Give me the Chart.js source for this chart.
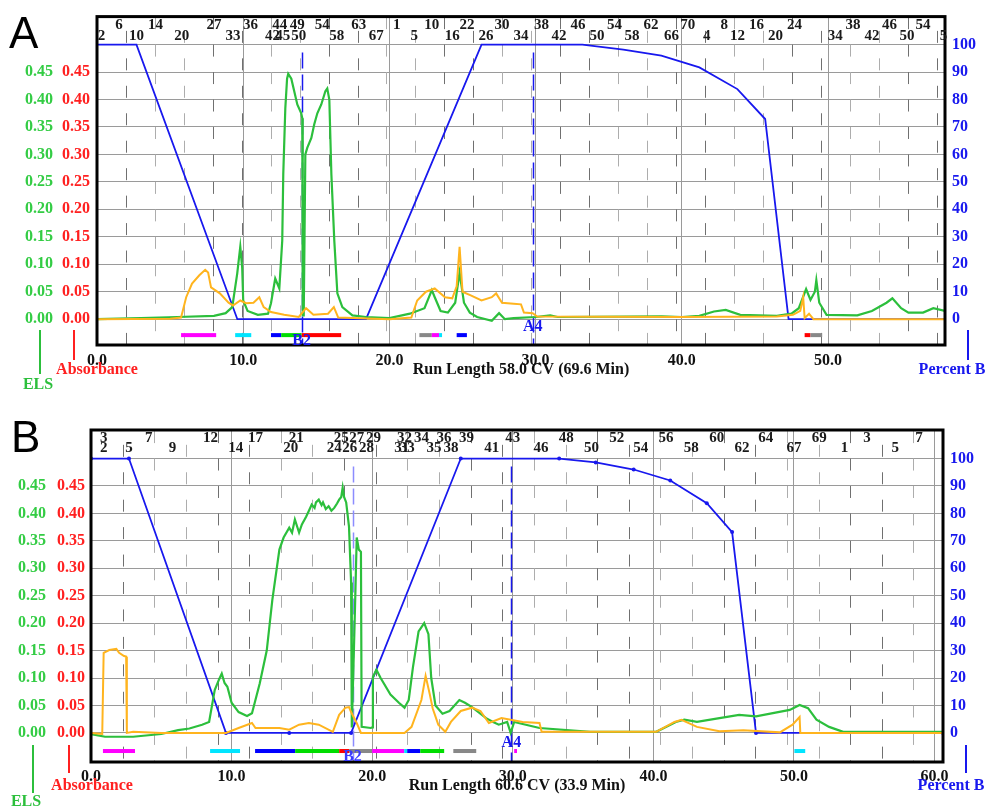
<!DOCTYPE html>
<html>
<head>
<meta charset="utf-8">
<script src="https://cdn.jsdelivr.net/npm/chart.js@4.4.0/dist/chart.umd.min.js"></script>
<style>
  body { margin: 0; background: #fff; }
  .panel { position: absolute; left: 0; width: 990px; height: 405px; }
</style>
</head>
<body>
<div class="panel" style="top:0"><canvas id="chartA" width="990" height="405"></canvas></div>
<div class="panel" style="top:405px"><canvas id="chartB" width="990" height="405"></canvas></div>
<script>
// ---- shared tick values ----
const yTicks = [0, 0.05, 0.10, 0.15, 0.20, 0.25, 0.30, 0.35, 0.40, 0.45];
const pbTicks = [0, 10, 20, 30, 40, 50, 60, 70, 80, 90, 100];
const xTicksA = [0, 10, 20, 30, 40, 50];
const xTicksB = [0, 10, 20, 30, 40, 50, 60];

// ---- Panel A: ELS (green) ----
const elsCvA = [0, 3.0, 5.5, 8.0, 8.8, 9.25, 9.59, 9.8, 9.93, 10.0, 10.3, 11.0, 11.7, 11.9, 12.19, 12.47,
  12.67, 12.74, 12.88, 13.0, 13.08, 13.29, 13.49, 13.70, 13.97, 14.04, 14.07, 14.14, 14.25, 14.38, 14.66,
  14.86, 15.07, 15.34, 15.62, 15.75, 15.89, 16.03, 16.23, 16.44, 16.78, 17.47, 18.4, 20.0, 21.4, 22.4,
  22.9, 23.1, 23.5, 24.0, 24.5, 24.8, 25.1, 25.5, 26.0, 27.0, 27.5, 27.9, 28.5, 30.0, 31.0, 31.5, 38.6,
  40.0, 41.2, 42.2, 43.0, 44.0, 46.5, 47.5, 48.0, 48.5, 48.8, 49.1, 49.2, 49.4, 49.9, 52.0, 53.0, 54.0,
  54.4, 55.0, 55.5, 56.5, 57.2, 58.0];
const elsValA = [0, 0.002, 0.004, 0.006, 0.011, 0.022, 0.083, 0.132, 0.094, 0.034, 0.015, 0.008, 0.01, 0.029, 0.074, 0.056,
  0.143, 0.264, 0.384, 0.438, 0.447, 0.438, 0.415, 0.391, 0.375, 0.366, 0.007, 0.007, 0.30, 0.312, 0.33,
  0.355, 0.375, 0.391, 0.415, 0.42, 0.40, 0.264, 0.143, 0.047, 0.022, 0.007, 0.004, 0.002, 0.01, 0.02,
  0.053, 0.04, 0.015, 0.012, 0.03, 0.085, 0.03, 0.012, 0.004, -0.003, 0.011, 0.0, 0.002, 0.004, 0.007, 0.004, 0.005,
  0.004, 0.006, 0.014, 0.017, 0.008, 0.006, 0.01, 0.02, 0.055, 0.035, 0.05, 0.071, 0.03, 0.008, 0.007, 0.015, 0.03,
  0.038, 0.02, 0.012, 0.012, 0.02, 0.015];

// ---- Panel A: Absorbance (orange) ----
const absCvA = [0, 5.0, 5.75, 6.1, 6.5, 7.0, 7.4, 7.6, 7.8, 8.4, 9.0, 9.3, 9.8, 10.2, 10.7, 11.1, 11.4, 11.9,
  12.8, 13.8, 14.3, 14.8, 15.8, 16.2, 16.5, 17.5, 20.0, 21.5, 21.9, 22.5, 23.1, 23.8, 24.3, 24.6, 24.8,
  25.0, 25.6, 26.3, 27.0, 27.3, 27.7, 28.5, 29.0, 29.2, 29.8, 30.1, 40.0, 46.5, 47.6, 48.1, 48.3, 48.4,
  48.7, 49.0, 58.0];
const absValA = [0, 0.001, 0.003, 0.04, 0.065, 0.08, 0.09, 0.085, 0.058, 0.047, 0.03, 0.025, 0.034, 0.029, 0.03, 0.04, 0.022, 0.013,
  0.008, 0.004, 0.02, 0.008, 0.01, 0.022, 0.003, 0.002, 0.0, 0.003, 0.034, 0.05, 0.056, 0.04, 0.038, 0.06, 0.132,
  0.05, 0.043, 0.034, 0.04, 0.047, 0.03, 0.028, 0.027, 0.012, 0.011, 0.005, 0.004, 0.005, 0.008, 0.015, 0.04, 0.002,
  0.01, 0.0, 0.0];

// ---- Panel A: Percent B (blue) ----
const pbCvA = [0, 2.7, 9.6, 18.4, 26.3, 33.2, 36.0, 38.6, 41.2, 43.8, 45.7, 47.3, 58.0];
const pbValA = [100, 100, 0, 0, 100, 100, 98.2, 96.0, 91.7, 83.8, 72.9, 0, 0];

// ---- Panel A: fraction labels ----
const fracTextA = ['6', '14', '27', '36', '44', '49', '54', '63', '1', '10', '22', '30', '38', '46', '54', '62', '70', '8', '16', '24', '38', '46', '54',
  '2', '10', '20', '33', '42', '45', '50', '58', '67', '5', '16', '26', '34', '42', '50', '58', '66', '4', '12', '20', '34', '42', '50', '5'];
const fracCvA = [1.5, 4.0, 8.0, 10.5, 12.5, 13.7, 15.4, 17.9, 20.5, 22.9, 25.3, 27.7, 30.4, 32.9, 35.4, 37.9, 40.4, 42.9, 45.1, 47.7, 51.7, 54.2, 56.5,
  0.3, 2.7, 5.8, 9.3, 12.0, 12.7, 13.8, 16.4, 19.1, 21.7, 24.3, 26.6, 29.0, 31.6, 34.2, 36.6, 39.3, 41.7, 43.8, 46.4, 50.5, 53.0, 55.4, 57.9];
const fracRowA = [0, 0, 0, 0, 0, 0, 0, 0, 0, 0, 0, 0, 0, 0, 0, 0, 0, 0, 0, 0, 0, 0, 0,
  1, 1, 1, 1, 1, 1, 1, 1, 1, 1, 1, 1, 1, 1, 1, 1, 1, 1, 1, 1, 1, 1, 1, 1];

// ---- Panel A: collected fraction bars ----
const barStartA = [5.75, 9.45, 11.9, 12.6, 14.0, 22.05, 22.9, 23.4, 24.6, 48.4, 48.8];
const barEndA = [8.15, 10.55, 12.6, 14.0, 16.7, 22.9, 23.4, 23.6, 25.3, 48.8, 49.6];
const barColorA = ['#ff00ff', '#00e5ff', '#0000ff', '#00dd00', '#ff0000', '#888888', '#ff00ff', '#00e5ff', '#0000ff', '#ff0000', '#888888'];

// ---- Panel A: event markers ----
const markerCvA = [14.0, 29.8];
const markerTextA = ['B2', 'A4'];

// ---- Panel B: ELS (green) ----
const elsCvB = [0, 1.0, 3.0, 5.0, 6.2, 7.0, 7.9, 8.4, 8.8, 9.1, 9.3, 9.5, 9.7, 10.0, 10.5, 11.1, 11.45, 12.0,
  12.5, 12.9, 13.4, 13.7, 14.1, 14.3, 14.5, 14.8, 15.0, 15.3, 15.5, 15.7, 15.9, 16.0, 16.2, 16.4, 16.5, 16.7,
  16.9, 17.1, 17.3, 17.5, 17.65, 17.8, 17.9, 18.0, 18.15, 18.35, 18.5, 18.55, 18.75, 18.9, 19.05, 19.2,
  19.25, 19.9, 20.0, 20.05, 20.3, 20.6, 21.3, 21.9, 22.3, 22.6, 22.9, 23.3, 23.7, 24.0, 24.2, 24.5, 25.0,
  25.5, 26.2, 26.6, 27.1, 28.1, 28.6, 29.0, 29.6, 29.85, 30.1, 31.9, 35.5, 40.2, 41.6, 42.2, 43.1, 44.7,
  46.1, 47.3, 49.7, 50.4, 51.0, 51.6, 52.5, 53.5, 60.6];
const elsValB = [-0.002, -0.007, -0.007, -0.002, 0.005, 0.008, 0.015, 0.02, 0.078, 0.097, 0.108, 0.091, 0.084, 0.055, 0.038, 0.031, 0.036, 0.09,
  0.15, 0.243, 0.334, 0.356, 0.374, 0.365, 0.389, 0.365, 0.38, 0.394, 0.405, 0.416, 0.41, 0.42, 0.425, 0.415, 0.42, 0.408,
  0.413, 0.405, 0.41, 0.418, 0.425, 0.43, 0.447, 0.43, 0.42, 0.376, 0.274, 0.01, 0.2, 0.356, 0.334, 0.33,
  0.011, 0.009, 0.01, 0.102, 0.115, 0.1, 0.07, 0.055, 0.046, 0.06, 0.12, 0.185, 0.2, 0.18, 0.1, 0.05, 0.035,
  0.04, 0.06, 0.055, 0.047, 0.027, 0.02, 0.015, 0.02, 0.0, 0.02, 0.009, 0.002, 0.002, 0.02, 0.024, 0.02, 0.027,
  0.033, 0.03, 0.042, 0.051, 0.045, 0.024, 0.011, 0.002, 0.002];

// ---- Panel B: Absorbance (orange) ----
const absCvB = [0, 0.8, 0.9, 1.3, 1.8, 2.0, 2.35, 2.5, 2.55, 3.0, 5.0, 9.6, 10.5, 11.45, 11.7, 13.4, 14.1, 14.8,
  15.5, 16.2, 17.2, 17.65, 18.1, 18.35, 18.5, 18.9, 19.2, 22.3, 22.8, 23.5, 23.8, 24.1, 24.3, 24.7, 25.2,
  25.6, 26.3, 27.1, 27.7, 28.3, 29.2, 30.7, 31.9, 32.05, 40.2, 41.5, 42.0, 43.1, 44.7, 46.4, 49.0, 49.9,
  50.4, 50.45, 60.6];
const absValB = [0, -0.002, 0.146, 0.151, 0.153, 0.146, 0.14, 0.139, 0.0, 0.002, 0.0, 0.0, 0.009, 0.018, 0.009, 0.009, 0.006, 0.015,
  0.018, 0.015, 0.002, 0.033, 0.046, 0.047, 0.038, 0.018, 0.0, 0.0, 0.011, 0.06, 0.104, 0.07, 0.045, 0.015, 0.002,
  0.02, 0.04, 0.046, 0.04, 0.018, 0.027, 0.02, 0.018, 0.002, 0.002, 0.02, 0.024, 0.011, 0.003, 0.005, 0.001, 0.015,
  0.029, 0.0, 0.0];

// ---- Panel B: Percent B (blue) ----
const pbCvB = [0, 2.7, 9.6, 14.1, 18.5, 26.3, 33.3, 35.9, 38.6, 41.2, 43.8, 45.6, 47.3, 60.6];
const pbValB = [100, 100, 0, 0, 0, 100, 100, 98.6, 96.0, 92.0, 83.7, 73.2, 0, 0];

// ---- Panel B: fraction labels ----
const fracTextB = ['3', '7', '12', '17', '21', '25', '27', '29', '32', '34', '36', '39', '43', '48', '52', '56', '60', '64', '69', '3', '7',
  '2', '5', '9', '14', '20', '24', '26', '28', '31', '33', '35', '38', '41', '46', '50', '54', '58', '62', '67', '1', '5'];
const fracCvB = [0.9, 4.1, 8.5, 11.7, 14.6, 17.8, 18.9, 20.1, 22.3, 23.5, 25.1, 26.7, 30.0, 33.8, 37.4, 40.9, 44.5, 48.0, 51.8, 55.2, 58.9,
  0.9, 2.7, 5.8, 10.3, 14.2, 17.3, 18.4, 19.6, 22.1, 22.5, 24.4, 25.6, 28.5, 32.0, 35.6, 39.1, 42.7, 46.3, 50.0, 53.6, 57.2];
const fracRowB = [0, 0, 0, 0, 0, 0, 0, 0, 0, 0, 0, 0, 0, 0, 0, 0, 0, 0, 0, 0, 0,
  1, 1, 1, 1, 1, 1, 1, 1, 1, 1, 1, 1, 1, 1, 1, 1, 1, 1, 1, 1, 1];

// ---- Panel B: collected fraction bars ----
const barStartB = [0.85, 8.47, 11.67, 14.52, 17.65, 18.36, 20.0, 22.28, 22.49, 23.42, 25.77, 30.1, 50.03];
const barEndB = [3.13, 10.6, 14.52, 17.65, 18.36, 20.0, 22.28, 22.49, 23.42, 25.12, 27.4, 30.3, 50.8];
const barColorB = ['#ff00ff', '#00e5ff', '#0000ff', '#00dd00', '#ff0000', '#888888', '#ff00ff', '#00e5ff', '#0000ff', '#00dd00', '#888888', '#ff00ff', '#00e5ff'];

// ---- Panel B: event markers ----
const markerCvB = [18.6, 29.9];
const markerTextB = ['B2', 'A4'];

const GREEN = '#2cbf3c';
const ORANGE = '#ffb41e';
const BLUE = '#1818ee';
const RED = '#ff2020';
const SERIF = '"Liberation Serif", "Times New Roman", serif';

// Draws fraction ticks, bars, frame and all the annotation text
function decorPlugin(p) {
  return {
    id: 'decor' + p.letter,
    beforeDatasetsDraw(chart) {
      const { ctx, chartArea: a, scales } = chart;
      const xs = scales.x;
      const y100 = scales.pb.getPixelForValue(100);
      const period = scales.pb.getPixelForValue(0) - scales.pb.getPixelForValue(10);
      ctx.save();
      ctx.beginPath();
      ctx.rect(a.left, a.top, a.right - a.left, a.bottom - a.top);
      ctx.clip();
      ctx.lineWidth = 1;
      // fraction tube dashes (staggered, brick pattern)
      scales.frac.ticks.forEach((t, i) => {
        const px = Math.round(xs.getPixelForValue(t.value)) + 0.5;
        const phase = i % 2;
        ctx.strokeStyle = (Math.floor(i / 2) % 2) ? '#adadad' : '#707070';
        ctx.setLineDash([12, period - 12]);
        let y0 = y100 + phase * period / 2;
        while (y0 > a.top) y0 -= period;
        ctx.beginPath();
        ctx.moveTo(px, y0);
        ctx.lineTo(px, a.bottom);
        ctx.stroke();
      });
      // event marker lines
      ctx.lineWidth = 1.5;
      ctx.setLineDash([16, 6]);
      p.markerCv.forEach((cv, i) => {
        const px = Math.round(xs.getPixelForValue(cv)) + 0.5;
        ctx.strokeStyle = p.markerColor[i];
        ctx.beginPath();
        ctx.moveTo(px, y100 + 8);
        ctx.lineTo(px, a.bottom);
        ctx.stroke();
      });
      ctx.setLineDash([]);
      // collected fraction bars
      const yb = scales.els.getPixelForValue(p.barLevel);
      p.barStart.forEach((s, i) => {
        const x0 = xs.getPixelForValue(s);
        const x1 = xs.getPixelForValue(p.barEnd[i]);
        ctx.fillStyle = p.barColor[i];
        ctx.fillRect(x0, yb - 2, x1 - x0, 4);
      });
      ctx.restore();
    },
    afterDraw(chart) {
      const { ctx, chartArea: a, scales } = chart;
      const xs = scales.x;
      ctx.save();
      // frame
      ctx.strokeStyle = '#000';
      ctx.lineWidth = 3;
      ctx.strokeRect(a.left, a.top, a.right - a.left, a.bottom - a.top);

      // fraction numbers
      ctx.font = 'bold 15px ' + SERIF;
      ctx.fillStyle = '#1a1a1a';
      ctx.textAlign = 'center';
      ctx.textBaseline = 'middle';
      p.fracText.forEach((t, i) => {
        ctx.fillText(t, xs.getPixelForValue(p.fracCv[i]), a.top + p.rowY[p.fracRow[i]]);
      });

      // event marker labels
      ctx.font = 'bold 16px ' + SERIF;
      p.markerText.forEach((t, i) => {
        ctx.fillStyle = p.markerColor[i] === '#8c8cff' ? '#3a3aff' : BLUE;
        ctx.fillText(t, xs.getPixelForValue(p.markerCv[i]), a.bottom - p.markerLift[i]);
      });

      // axis titles
      ctx.fillStyle = '#111';
      ctx.fillText(p.xTitle, (a.left + a.right) / 2, p.titleY);

      ctx.lineWidth = 2;
      ctx.strokeStyle = GREEN;
      ctx.beginPath(); ctx.moveTo(p.elsX, p.lineTop); ctx.lineTo(p.elsX, p.elsLineEnd); ctx.stroke();
      ctx.fillStyle = GREEN;
      ctx.fillText('ELS', p.elsTextX, p.elsTextY);

      ctx.strokeStyle = RED;
      ctx.beginPath(); ctx.moveTo(p.absX, p.lineTop); ctx.lineTo(p.absX, p.lineEnd); ctx.stroke();
      ctx.fillStyle = RED;
      ctx.fillText('Absorbance', p.absTextX, p.titleY);

      ctx.strokeStyle = BLUE;
      ctx.beginPath(); ctx.moveTo(p.pbX, p.lineTop); ctx.lineTo(p.pbX, p.lineEnd); ctx.stroke();
      ctx.fillStyle = BLUE;
      ctx.fillText('Percent B', p.pbTextX, p.titleY);

      // panel letter
      ctx.fillStyle = '#000';
      ctx.textAlign = 'left';
      ctx.textBaseline = 'alphabetic';
      ctx.font = '44px "Liberation Sans", Arial, sans-serif';
      ctx.fillText(p.letter, p.letterX, p.letterY);
      ctx.restore();
    }
  };
}

function pts(cv, val) {
  return cv.map((x, i) => ({ x: x, y: val[i] }));
}

function buildChart(id, p) {
  const tickFont = { family: SERIF, size: 16, weight: 'bold' };
  const fixTicks = (vals) => (scale) => { scale.ticks = vals.map(v => ({ value: v })); };
  return new Chart(document.getElementById(id), {
    type: 'line',
    data: {
      datasets: [
        { data: pts(p.absCv, p.absVal), yAxisID: 'abs', borderColor: ORANGE, borderWidth: 2, pointRadius: 0 },
        { data: pts(p.elsCv, p.elsVal), yAxisID: 'els', borderColor: GREEN, borderWidth: 2.2, pointRadius: 0 },
        { data: pts(p.pbCv, p.pbVal), yAxisID: 'pb', borderColor: BLUE, borderWidth: 1.8,
          pointRadius: p.pbDot, pointBackgroundColor: BLUE, pointBorderWidth: 0 }
      ]
    },
    options: {
      responsive: false,
      animation: false,
      layout: { padding: { top: p.padTop, left: 0, right: 0, bottom: 0 } },
      plugins: { legend: { display: false }, tooltip: { enabled: false } },
      scales: {
        x: {
          type: 'linear', position: 'bottom', min: 0, max: p.xMax,
          afterBuildTicks: fixTicks(p.xTicks),
          afterFit: (s) => { s.height = p.xAxisH; },
          ticks: { font: tickFont, color: '#111', padding: p.xPad, maxRotation: 0, autoSkip: false,
                   callback: (v) => Number(v).toFixed(1) },
          grid: { color: '#9a9a9a', drawTicks: false },
          border: { display: false }
        },
        frac: {
          type: 'linear', axis: 'x', position: 'bottom', display: false, min: 0, max: p.xMax,
          ticks: { stepSize: p.fracStep }
        },
        els: {
          position: 'left', weight: 2, min: p.yMin, max: p.yMax,
          afterBuildTicks: fixTicks(yTicks),
          afterFit: (s) => { s.width = p.elsW; },
          ticks: { font: tickFont, color: '#33cc44', padding: p.elsPad, callback: (v) => Number(v).toFixed(2) },
          grid: { display: false, drawTicks: false },
          border: { display: false }
        },
        abs: {
          position: 'left', weight: 1, min: p.yMin, max: p.yMax,
          afterBuildTicks: fixTicks(yTicks),
          afterFit: (s) => { s.width = p.absW; },
          ticks: { font: tickFont, color: RED, padding: p.absPad, callback: (v) => Number(v).toFixed(2) },
          grid: { display: false, drawTicks: false },
          border: { display: false }
        },
        pb: {
          position: 'right', min: p.yMin * 200, max: p.yMax * 200,
          afterBuildTicks: fixTicks(pbTicks),
          afterFit: (s) => { s.width = p.pbW; },
          ticks: { font: tickFont, color: BLUE, padding: 7 },
          grid: { color: '#9a9a9a', drawTicks: false },
          border: { display: false }
        }
      }
    },
    plugins: [decorPlugin(p)]
  });
}

buildChart('chartA', {
  letter: 'A', letterX: 9, letterY: 48,
  elsCv: elsCvA, elsVal: elsValA, absCv: absCvA, absVal: absValA, pbCv: pbCvA, pbVal: pbValA, pbDot: 0,
  xMax: 58.0, xTicks: xTicksA, yMin: -0.047, yMax: 0.551, fracStep: 0.33,
  padTop: 15, xAxisH: 60, xPad: 6, elsW: 57, elsPad: 4, absW: 40, absPad: 7, pbW: 45,
  fracText: fracTextA, fracCv: fracCvA, fracRow: fracRowA, rowY: [9, 20],
  barStart: barStartA, barEnd: barEndA, barColor: barColorA, barLevel: -0.029,
  markerCv: markerCvA, markerText: markerTextA, markerColor: [BLUE, BLUE], markerLift: [4, 18],
  xTitle: 'Run Length 58.0 CV (69.6 Min)', titleY: 370,
  lineTop: 330, lineEnd: 360, elsX: 40, elsLineEnd: 374, elsTextX: 38, elsTextY: 385,
  absX: 74, absTextX: 97, pbX: 968, pbTextX: 952
});

buildChart('chartB', {
  letter: 'B', letterX: 11, letterY: 47,
  elsCv: elsCvB, elsVal: elsValB, absCv: absCvB, absVal: absValB, pbCv: pbCvB, pbVal: pbValB, pbDot: 2,
  xMax: 60.6, xTicks: xTicksB, yMin: -0.053, yMax: 0.552, fracStep: 0.45,
  padTop: 25, xAxisH: 48, xPad: 5, elsW: 53, elsPad: 7, absW: 38, absPad: 6, pbW: 47,
  fracText: fracTextB, fracCv: fracCvB, fracRow: fracRowB, rowY: [8, 18],
  barStart: barStartB, barEnd: barEndB, barColor: barColorB, barLevel: -0.033,
  markerCv: markerCvB, markerText: markerTextB, markerColor: ['#8c8cff', BLUE], markerLift: [5, 19],
  xTitle: 'Run Length 60.6 CV (33.9 Min)', titleY: 381,
  lineTop: 340, lineEnd: 368, elsX: 33, elsLineEnd: 388, elsTextX: 26, elsTextY: 397,
  absX: 69, absTextX: 92, pbX: 966, pbTextX: 951
});
</script>
</body>
</html>
